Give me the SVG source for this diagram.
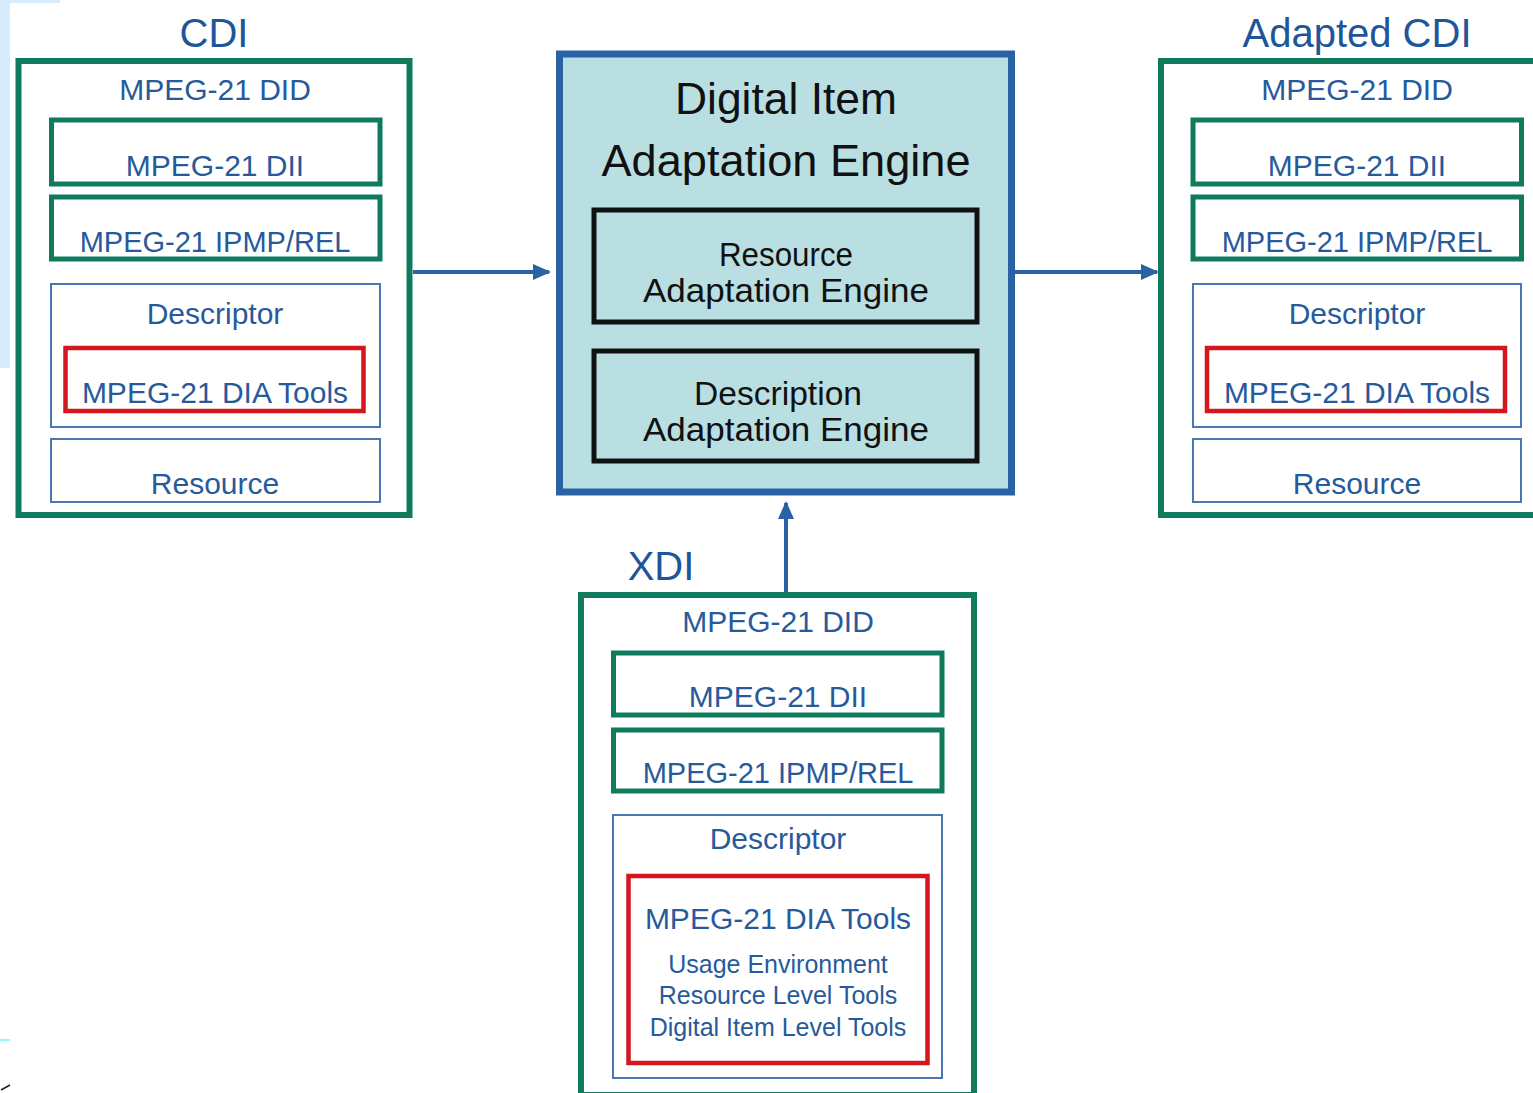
<svg xmlns="http://www.w3.org/2000/svg" width="1533" height="1093" viewBox="0 0 1533 1093">
<defs>
<style>
text{font-family:"Liberation Sans",Arial,sans-serif;text-anchor:middle}
.t{fill:#275a9b;font-size:30px}
.w{font-size:29px}
.h{fill:#1f5699;font-size:40px}
.s{fill:#275a9b;font-size:25px}
.k{fill:#111;}
.outer{fill:#fff;stroke:#0f7a5c;stroke-width:6}
.g{fill:none;stroke:#0f7a5c;stroke-width:5}
.thin{fill:none;stroke:#4a76b3;stroke-width:2}
.red{fill:none;stroke:#d4161e;stroke-width:4.5}
.eng{fill:#b9dfe3;stroke:#2a62a6;stroke-width:7}
.blk{fill:none;stroke:#111;stroke-width:5}
.arr{stroke:#2a62a6;stroke-width:4;fill:none}
</style>
<marker id="ah" markerWidth="4.5" markerHeight="4" refX="4" refY="2" orient="auto" markerUnits="strokeWidth" viewBox="0 0 4.5 4">
<path d="M0,0 L4.5,2 L0,4 Z" fill="#2a62a6"/>
</marker>
</defs>
<rect width="1533" height="1093" fill="#fff"/>
<g id="artifacts">
<rect x="0" y="0" width="10" height="368" fill="#d6ebfb"/>
<rect x="0" y="0" width="60" height="3" fill="#d6ebfb"/>
<rect x="0" y="1039" width="10" height="2" fill="#8ff"/>
<line x1="1" y1="1090" x2="10" y2="1085" stroke="#222" stroke-width="1.5"/>
</g>
<g id="connectors">
<line class="arr" x1="413" y1="272" x2="549" y2="272" marker-end="url(#ah)"/>
<line class="arr" x1="1006" y1="272" x2="1157" y2="272" marker-end="url(#ah)"/>
<line class="arr" x1="786" y1="592" x2="786" y2="503" marker-end="url(#ah)"/>
</g>
<g id="cdi">
<text class="h" x="214" y="47">CDI</text>
<rect class="outer" x="18.5" y="61" width="391" height="454"/>
<text class="t" x="215" y="100">MPEG-21 DID</text>
<rect class="g" x="51.5" y="120" width="328.5" height="64"/>
<text class="t" x="215" y="176">MPEG-21 DII</text>
<rect class="g" x="51.5" y="197" width="328.5" height="62"/>
<text class="t w" x="215" y="252">MPEG-21 IPMP/REL</text>
<rect class="thin" x="51" y="284" width="329" height="143"/>
<text class="t" x="215" y="324">Descriptor</text>
<rect class="red" x="65.5" y="348" width="298" height="63"/>
<text class="t" x="215" y="403">MPEG-21 DIA Tools</text>
<rect class="thin" x="51" y="439" width="329" height="63"/>
<text class="t" x="215" y="494">Resource</text>
</g>
<g id="engine">
<rect class="eng" x="559.5" y="54" width="452" height="438"/>
<text class="k" x="786" y="114" font-size="44" textLength="222" lengthAdjust="spacingAndGlyphs">Digital Item</text>
<text class="k" x="786" y="176" font-size="44" textLength="369" lengthAdjust="spacingAndGlyphs">Adaptation Engine</text>
<rect class="blk" x="594" y="210" width="383" height="112"/>
<text class="k" x="786" y="266" font-size="34" textLength="134" lengthAdjust="spacingAndGlyphs">Resource</text>
<text class="k" x="786" y="302" font-size="34" textLength="286" lengthAdjust="spacingAndGlyphs">Adaptation Engine</text>
<rect class="blk" x="594" y="351" width="383" height="110"/>
<text class="k" x="778" y="405" font-size="34" textLength="168" lengthAdjust="spacingAndGlyphs">Description</text>
<text class="k" x="786" y="441" font-size="34" textLength="286" lengthAdjust="spacingAndGlyphs">Adaptation Engine</text>
</g>
<g id="adapted-cdi">
<text class="h" x="1357" y="47">Adapted CDI</text>
<rect class="outer" x="1161" y="61" width="391" height="454"/>
<text class="t" x="1357" y="100">MPEG-21 DID</text>
<rect class="g" x="1193" y="120" width="328.5" height="64"/>
<text class="t" x="1357" y="176">MPEG-21 DII</text>
<rect class="g" x="1193" y="197" width="328.5" height="62"/>
<text class="t w" x="1357" y="252">MPEG-21 IPMP/REL</text>
<rect class="thin" x="1193" y="284" width="328" height="143"/>
<text class="t" x="1357" y="324">Descriptor</text>
<rect class="red" x="1207" y="348" width="298" height="63"/>
<text class="t" x="1357" y="403">MPEG-21 DIA Tools</text>
<rect class="thin" x="1193" y="439" width="328" height="63"/>
<text class="t" x="1357" y="494">Resource</text>
</g>
<g id="xdi">
<text class="h" x="661" y="580" font-size="38">XDI</text>
<rect class="outer" x="581" y="595" width="393" height="500"/>
<text class="t" x="778" y="632">MPEG-21 DID</text>
<rect class="g" x="613.5" y="653" width="328.5" height="62"/>
<text class="t" x="778" y="707">MPEG-21 DII</text>
<rect class="g" x="613.5" y="730" width="328.5" height="61"/>
<text class="t w" x="778" y="783">MPEG-21 IPMP/REL</text>
<rect class="thin" x="613" y="815" width="329" height="263"/>
<text class="t" x="778" y="849">Descriptor</text>
<rect class="red" x="628.5" y="876" width="299" height="187"/>
<text class="t" x="778" y="929">MPEG-21 DIA Tools</text>
<text class="s" x="778" y="973">Usage Environment</text>
<text class="s" x="778" y="1004">Resource Level Tools</text>
<text class="s" x="778" y="1036">Digital Item Level Tools</text>
</g>
</svg>
